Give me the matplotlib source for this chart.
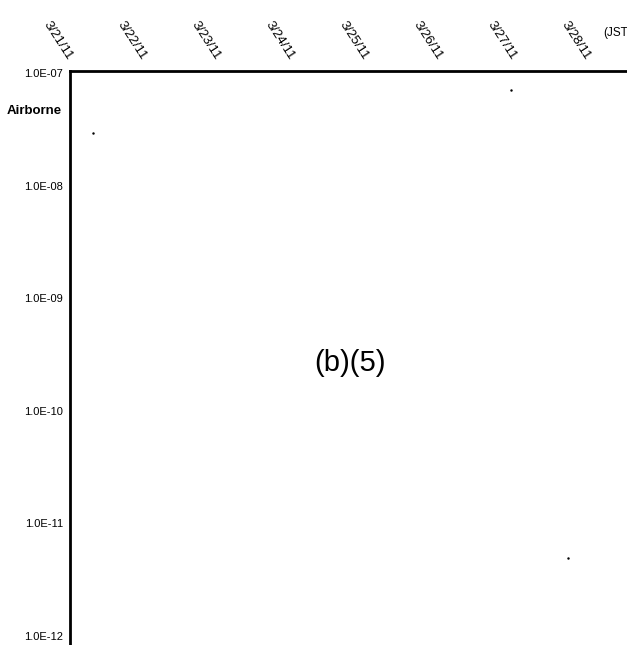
import numpy as np
import matplotlib.pyplot as plt
import matplotlib.dates as mdates
from datetime import datetime

# tick labels and the few stray points visible on the scan
date_labels = ['3/21/11', '3/22/11', '3/23/11', '3/24/11',
               '3/25/11', '3/26/11', '3/27/11', '3/28/11']
tick_dates = [datetime(2011, 3, d) for d in range(21, 29)]
ytick_vals = [1e-7, 1e-8, 1e-9, 1e-10, 1e-11, 1e-12]
ytick_labels = ['1.0E-07', '1.0E-08', '1.0E-09', '1.0E-10', '1.0E-11', '1.0E-12']

pt_times = [datetime(2011, 3, 21, 7, 30), datetime(2011, 3, 26, 23, 0),
            datetime(2011, 3, 27, 17, 30)]
pt_vals = [2.9e-8, 7.1e-8, 4.9e-12]

plt.rcParams['font.family'] = ['Liberation Sans', 'DejaVu Sans']

fig = plt.figure(figsize=(6.27, 6.45), dpi=100)
ax = fig.add_axes([70 / 627, 0.0, 1 - 70 / 627, 1 - 71 / 645])

ax.plot(mdates.date2num(pt_times), pt_vals, 'k.', markersize=1.5)

ax.set_yscale('log')
ax.set_ylim(8.3e-13, 1.04e-7)
x0 = mdates.date2num(tick_dates[0])
ax.set_xlim(x0, x0 + 7.53)

ax.set_yticks(ytick_vals)
ax.set_yticklabels(ytick_labels, fontsize=8)
ax.yaxis.set_minor_locator(plt.NullLocator())
ax.tick_params(axis='y', length=0, pad=5)

ax.xaxis.tick_top()
ax.set_xticks(mdates.date2num(tick_dates))
ax.set_xticklabels(date_labels, fontsize=9.5, rotation=-57,
                   ha='right', va='center', rotation_mode='anchor')
ax.tick_params(axis='x', length=0, pad=9)

for s in ['right', 'bottom']:
    ax.spines[s].set_visible(False)
ax.spines['top'].set_linewidth(2)
ax.spines['left'].set_linewidth(2)

fig.text(7 / 627, 1 - 111 / 645, 'Airborne', fontsize=9.5, fontweight='bold',
         va='center', ha='left')
fig.text(603 / 627, 1 - 33 / 645, '(JST', fontsize=8.5, va='center', ha='left')
ax.text(0.503, 0.491, '(b)(5)', transform=ax.transAxes, fontsize=21,
        ha='center', va='center')

fig.savefig('out.png', dpi=100)
